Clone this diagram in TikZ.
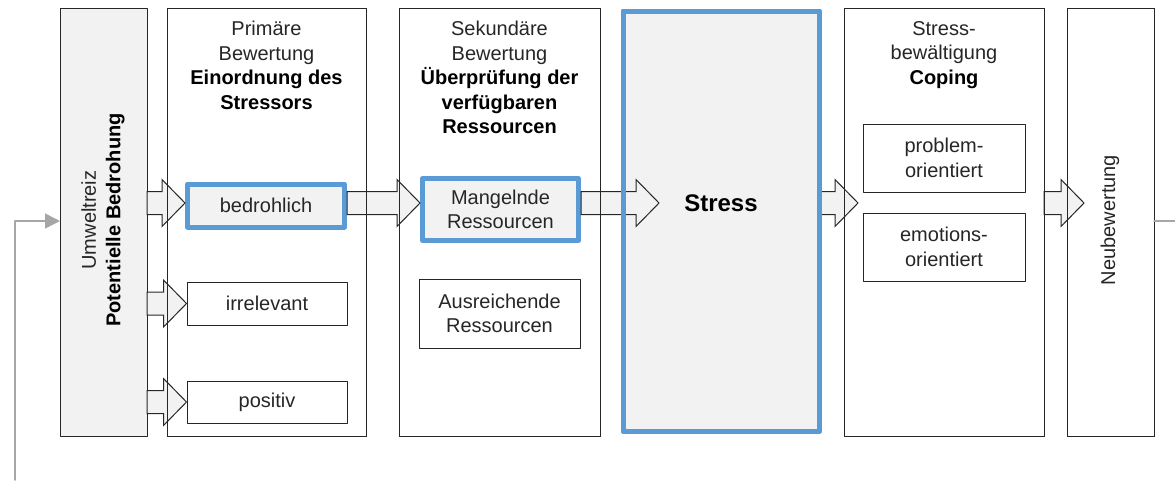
\documentclass[tikz,border=0pt]{standalone}
\usepackage{fontspec}
\setmainfont{Liberation Sans}
\usepackage{tikz}
\usetikzlibrary{calc}
\usetikzlibrary{arrows.meta}
\definecolor{boxgray}{rgb}{0.949,0.949,0.949}
\definecolor{stressblue}{rgb}{0.357,0.608,0.835}
\definecolor{loopgray}{rgb}{0.65,0.65,0.65}
\definecolor{framegray}{rgb}{0.15,0.15,0.15}
\tikzstyle{every node}=[font=\fontsize{20}{24.5}\selectfont,text=black!85]
% wide arrow: start point (#1), tip (#2), both on the same row
\newcommand{\blockarrow}[2]{%
\draw[blockarr] let \p1=#1, \p2=#2 in
(\x1,\y1+11.5pt) -- (\x2-23pt,\y1+11.5pt) -- (\x2-23pt,\y1+23.5pt) -- (\x2,\y1)
-- (\x2-23pt,\y1-23.5pt) -- (\x2-23pt,\y1-11.5pt) -- (\x1,\y1-11.5pt) -- cycle;}

\begin{document}
\begin{tikzpicture}[line cap=round,line join=round,x=1pt,y=-1pt,
col/.style={draw=framegray,line width=1pt,outer sep=0pt,inner sep=0pt,minimum height=428},
ibox/.style={draw=framegray,line width=1pt,fill=white,inner sep=0pt,align=center,minimum width=160,minimum height=43},
hbox/.style={ibox,draw=stressblue,line width=5pt,fill=boxgray},
head/.style={anchor=north,yshift=-13,inner sep=0pt,align=center},
blockarr/.style={draw=framegray,line width=1pt,fill=boxgray,line join=miter},
loopline/.style={draw=loopgray,line width=1.5pt}]
\useasboundingbox (0,0) rectangle (1175,480);
\coordinate (row) at (0,203);
\coordinate (fb) at (0,221);
\coordinate (fbleft) at (15,480);
\coordinate (fbright) at (1175,221);
% columns
\node[col,fill=boxgray,minimum width=87] (umwelt) at (103.5,222) {};
\node[col,minimum width=199] (primaer) at (266.5,222) {};
\node[col,minimum width=201] (sekundaer) at (499.5,222) {};
\node[col,draw=stressblue,line width=5pt,fill=boxgray,minimum width=196,minimum height=420] (stress) at (721,221) {};
\node[col,minimum width=200] (coping) at (944,222) {};
\node[col,minimum width=87] (neu) at (1110.5,222) {};
% column texts
\node[rotate=90,align=center,inner sep=0pt] (umwelttext) at (103,220) {Umweltreiz\\\textbf{\color{black}Potentielle Bedrohung}};
\node[head] (primaerkopf) at (primaer.north) {Primäre\\Bewertung\\\textbf{\color{black}Einordnung des}\\\textbf{\color{black}Stressors}};
\node[head] (sekundaerkopf) at (sekundaer.north) {Sekundäre\\Bewertung\\\textbf{\color{black}Überprüfung der}\\\textbf{\color{black}verfügbaren}\\\textbf{\color{black}Ressourcen}};
\node[head] (copingkopf) at (coping.north) {Stress-\\bewältigung\\\textbf{\color{black}Coping}};
\node[font=\fontsize{24}{28}\selectfont\bfseries,text=black] (stresstext) at (721,203) {Stress};
\node[rotate=90,inner sep=0pt] (neutext) at (1110,220) {Neubewertung};
% boxes inside the columns
\node[hbox,minimum width=157] (bedr) at (266,205.5) {bedrohlich};
\node[ibox] (irr) at (267,303.5) {irrelevant};
\node[ibox,minimum height=42] (pos) at (267,402) {positiv};
\node[hbox,minimum width=156,minimum height=62] (mang) at (500.5,209.5) {Mangelnde\\Ressourcen};
\node[ibox,minimum width=161,minimum height=69] (ausr) at (499.5,313.5) {Ausreichende\\Ressourcen};
\node[ibox,minimum width=162,minimum height=68] (prob) at (944,158) {problem-\\orientiert};
\node[ibox,minimum width=162,minimum height=68] (emot) at (944,247) {emotions-\\orientiert};
% wide arrows
\blockarrow{(umwelt.east |- row)}{(bedr.west |- row)}
\blockarrow{(umwelt.east |- irr.west)}{(irr.west)}
\blockarrow{(umwelt.east |- pos.west)}{(pos.west)}
\blockarrow{(bedr.east |- row)}{(mang.west |- row)}
\blockarrow{(mang.east |- row)}{([xshift=36]stress.west |- row)}
\blockarrow{(stress.east |- row)}{([xshift=14]coping.west |- row)}
\blockarrow{(coping.east |- row)}{([xshift=17]neu.west |- row)}
% frames again on top of the arrows
\foreach \c in {primaer,sekundaer,coping,neu}
  \draw[framegray,line width=1pt] (\c.south west) rectangle (\c.north east);
\draw[stressblue,line width=5pt] (stress.south west) rectangle (stress.north east);
% feedback loop
\draw[loopline] (neu.east |- fb) -- (fbright);
\draw[loopline,-{Triangle[length=15pt,width=15pt]}] (fbleft) |- (umwelt.west |- fb);
\end{tikzpicture}
\end{document}
